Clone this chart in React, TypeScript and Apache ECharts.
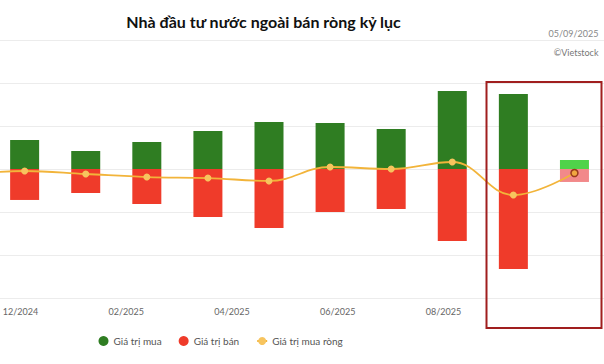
import React, { useEffect, useRef } from "react";
import * as echarts from "echarts";

// Monthly foreign investor trading (nghìn tỷ đồng)
const months = ["11/2024", "12/2024", "01/2025", "02/2025", "03/2025", "04/2025", "05/2025", "06/2025", "07/2025", "08/2025", "09/2025"];
const buyValues = [null, 40.5, 25.1, 37.7, 53.0, 65.6, 64.2, 55.8, 108.8, 104.6, 12.6];
const sellValues = [null, -43.2, -33.5, -48.8, -67.0, -82.3, -60.0, -55.8, -100.4, -139.5, -18.1];
const netValues = [-9.0, -2.8, -7.0, -11.2, -12.6, -16.7, 2.8, 0, 9.8, -36.3, -5.6];
const tickLabels = ["12/2024", "02/2025", "04/2025", "06/2025", "08/2025"];

const GREEN = "#2f7d22";
const RED = "#ef3b2a";
const GOLD = "#f2b43a";
const OFF = 67.5; // chart canvas starts left of the visible page

export default function App() {
  const ref = useRef<HTMLDivElement>(null);
  useEffect(() => {
    if (!ref.current) return;
    const chart = echarts.init(ref.current, undefined, { renderer: "svg" });
    const last = months.length - 1;
    const buyData = buyValues.map((v, i) =>
      i === last ? { value: v, itemStyle: { color: "#4fd34a" } } : v
    );
    const sellData = sellValues.map((v, i) =>
      i === last ? { value: v, itemStyle: { color: "#f2898a" } } : v
    );
    const netData = netValues.map((v, i) =>
      i === last
        ? { value: v, itemStyle: { color: "#f0a640", borderColor: "#9a3a1c", borderWidth: 1.5 } }
        : v
    );
    chart.setOption({
      animation: false,
      backgroundColor: "#ffffff",
      textStyle: { fontFamily: "Lato, 'Open Sans', sans-serif" },
      grid: [
        { left: 0, right: 0, top: 40, bottom: 66, containLabel: false },
        { left: OFF + 20, width: 423, top: 297, height: 1, containLabel: false },
      ],
      xAxis: [
        {
          type: "category",
          gridIndex: 0,
          data: months,
          axisLine: { show: false },
          axisTick: { show: false },
          axisLabel: { show: false },
        },
        {
          type: "category",
          gridIndex: 1,
          data: tickLabels,
          boundaryGap: false,
          axisLine: { show: false },
          axisTick: { show: false },
          axisLabel: { color: "#666", fontSize: 9, margin: 9 },
        },
      ],
      yAxis: [
        {
          type: "value",
          gridIndex: 0,
          min: -180,
          max: 180,
          interval: 60,
          axisLabel: { show: false },
          axisLine: { show: false },
          axisTick: { show: false },
          splitLine: { lineStyle: { color: "#ececec", width: 1 } },
        },
        {
          type: "value",
          gridIndex: 1,
          show: false,
        },
      ],
      legend: {
        left: OFF + 93,
        top: 331,
        itemGap: 17,
        itemWidth: 10,
        itemHeight: 10,
        textStyle: { color: "#555", fontSize: 10 },
        data: [
          { name: "Giá trị mua", icon: "circle", itemStyle: { color: GREEN } },
          { name: "Giá trị bán", icon: "circle", itemStyle: { color: RED } },
          { name: "Giá trị mua ròng" },
        ],
      },
      series: [
        {
          name: "Giá trị mua",
          type: "bar",
          xAxisIndex: 0,
          yAxisIndex: 0,
          data: buyData,
          barWidth: 29,
          barGap: "-100%",
          itemStyle: { color: GREEN },
          z: 2,
        },
        {
          name: "Giá trị bán",
          type: "bar",
          xAxisIndex: 0,
          yAxisIndex: 0,
          data: sellData,
          barWidth: 29,
          barGap: "-100%",
          itemStyle: { color: RED },
          z: 2,
        },
        {
          name: "Giá trị mua ròng",
          type: "line",
          xAxisIndex: 0,
          yAxisIndex: 0,
          data: netData,
          smooth: 0.4,
          symbol: "circle",
          symbolSize: 7,
          lineStyle: { color: GOLD, width: 1.8 },
          itemStyle: { color: "#f7c45e" },
          z: 5,
        },
      ],
      graphic: [
        {
          type: "text",
          x: OFF + 263,
          y: 21,
          style: {
            text: "Nhà đầu tư nước ngoài bán ròng kỷ lục",
            font: "bold 16px Lato, 'Open Sans', sans-serif",
            fill: "#111",
            align: "center",
            verticalAlign: "middle",
          },
        },
        {
          type: "text",
          x: OFF + 598,
          y: 33,
          style: { text: "05/09/2025", font: "9px Lato, sans-serif", fill: "#888", align: "right", verticalAlign: "middle" },
        },
        {
          type: "text",
          x: OFF + 598,
          y: 52,
          style: { text: "©Vietstock", font: "9px Lato, sans-serif", fill: "#777", align: "right", verticalAlign: "middle" },
        },
        {
          type: "rect",
          shape: { x: OFF + 486, y: 82, width: 115, height: 246 },
          style: { fill: "none", stroke: "#a01e1e", lineWidth: 2 },
          z: 10,
        },
      ],
    });
    return () => chart.dispose();
  }, []);
  return (
    <div style={{ position: "absolute", left: 0, top: 0, width: 604, height: 364, overflow: "hidden", background: "#fff" }}>
      <div ref={ref} style={{ position: "absolute", left: -OFF, top: 0, width: 604 + OFF, height: 364 }} />
    </div>
  );
}
